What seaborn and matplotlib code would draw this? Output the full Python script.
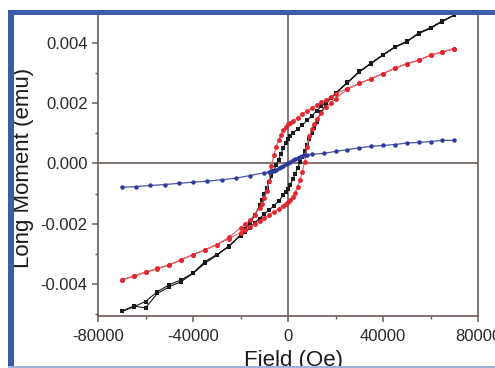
import pandas as pd
import matplotlib
matplotlib.use("Agg")
import matplotlib.pyplot as plt
from matplotlib.patches import Rectangle
from matplotlib.ticker import MultipleLocator, FuncFormatter
import seaborn as sns

# field grid of the two loop branches (Oe)
FIELD_DOWN = [70000, 65000, 60000, 55000, 50000, 45000, 40000, 35000, 30000, 25000, 20000,
              18000, 16000, 14000, 12000, 10000, 8000, 6000, 4000, 2000, 1000, 0,
              -1000, -2000, -3000, -4000, -5000, -6000, -7000, -8000, -9000, -10000, -11000, -12000,
              -14000, -16000, -18000, -20000, -25000, -30000, -35000, -40000, -45000, -50000,
              -55000, -60000, -65000, -70000]
FIELD_UP = [-70000, -65000, -60000, -55000, -50000, -45000, -40000, -35000, -30000, -25000, -20000,
            -18000, -16000, -14000, -12000, -10000, -8000, -6000, -4000, -2000, -1000, 0,
            1000, 2000, 3000, 4000, 5000, 6000, 7000, 8000, 9000, 10000, 11000, 12000,
            14000, 16000, 18000, 20000, 25000, 30000, 35000, 40000, 45000, 50000,
            55000, 60000, 65000, 70000]

# black loop (emu)
BLACK_DOWN = [0.00493, 0.00472, 0.00449, 0.00432, 0.00404, 0.00386, 0.00360, 0.00332, 0.00304, 0.00268, 0.00232,
              0.00218, 0.00205, 0.00190, 0.00174, 0.00158, 0.00143, 0.00128, 0.00114, 0.00101, 0.00093, 0.00082,
              0.00067, 0.00050, 0.00032, 0.00013, -0.00006, -0.00024, -0.00043, -0.00062, -0.00082, -0.00102,
              -0.00121, -0.00139, -0.00172, -0.00198, -0.00219, -0.00237, -0.00276, -0.00303, -0.00326,
              -0.00364, -0.00387, -0.00403, -0.00426, -0.00459, -0.00476, -0.00492]
BLACK_UP = [-0.00492, -0.00474, -0.00480, -0.00432, -0.00410, -0.00393, -0.00365, -0.00332, -0.00305, -0.00275, -0.00240,
            -0.00227, -0.00213, -0.00197, -0.00183, -0.00168, -0.00155, -0.00141, -0.00125, -0.00106, -0.00096, -0.00085,
            -0.00070, -0.00053, -0.00035, -0.00016, 0.00004, 0.00022, 0.00040, 0.00060, 0.00080, 0.00100,
            0.00119, 0.00137, 0.00172, 0.00197, 0.00217, 0.00234, 0.00270, 0.00306, 0.00334,
            0.00362, 0.00388, 0.00406, 0.00434, 0.00452, 0.00474, 0.00493]

# red loop (emu)
RED_DOWN = [0.00382, 0.00371, 0.00360, 0.00343, 0.00332, 0.00316, 0.00299, 0.00282, 0.00266, 0.00249, 0.00232,
            0.00222, 0.00212, 0.00203, 0.00193, 0.00184, 0.00174, 0.00163, 0.00152, 0.00141, 0.00136, 0.00130,
            0.00121, 0.00110, 0.00095, 0.00077, 0.00055, 0.00028, -0.00008, -0.00058, -0.00093, -0.00116,
            -0.00134, -0.00148, -0.00170, -0.00187, -0.00201, -0.00214, -0.00246, -0.00270, -0.00287,
            -0.00303, -0.00320, -0.00337, -0.00349, -0.00361, -0.00374, -0.00387]
RED_UP = [-0.00387, -0.00375, -0.00362, -0.00350, -0.00337, -0.00320, -0.00303, -0.00287, -0.00270, -0.00250, -0.00230,
          -0.00221, -0.00211, -0.00201, -0.00191, -0.00181, -0.00171, -0.00161, -0.00150, -0.00140, -0.00135, -0.00129,
          -0.00121, -0.00111, -0.00097, -0.00079, -0.00056, -0.00029, 0.00006, 0.00056, 0.00091, 0.00114,
          0.00132, 0.00147, 0.00169, 0.00187, 0.00202, 0.00215, 0.00247, 0.00266, 0.00282,
          0.00299, 0.00316, 0.00332, 0.00343, 0.00360, 0.00371, 0.00382]

# blue curve
BLUE_FIELD = [70000, 65000, 60000, 55000, 50000, 45000, 40000, 35000, 30000, 25000, 20000, 15000, 10000,
              8000, 7000, 6000, 5000, 4000, 3000, 2000, 1000, 0, -1000, -2000, -3000, -4000, -5000,
              -6000, -7000, -8000, -10000, -16000, -22000, -28000, -34000, -40000, -46000, -52000,
              -58000, -64000, -70000]
BLUE_M = [0.00077, 0.00077, 0.00073, 0.00070, 0.00068, 0.00063, 0.00060, 0.00057, 0.00052, 0.00046, 0.00040,
          0.00034, 0.00030, 0.00029, 0.00028, 0.00026, 0.00023, 0.00019, 0.00015, 0.00010, 0.00006, 0.00002,
          -0.00003, -0.00007, -0.00011, -0.00016, -0.00020, -0.00024, -0.00026, -0.00028, -0.00031,
          -0.00040, -0.00049, -0.00054, -0.00059, -0.00062, -0.00066, -0.00070, -0.00073, -0.00077, -0.00079]

X_TICKS = [-80000, -40000, 0, 40000, 80000]
Y_TICKS = [-0.004, -0.002, 0.000, 0.002, 0.004]

sns.set_style("ticks")
plt.rcParams['font.family'] = ['Liberation Sans', 'DejaVu Sans']
plt.rcParams['axes.unicode_minus'] = False

W, H = 495, 368
fig = plt.figure(figsize=(W / 100, H / 100), dpi=100)
fig.patch.set_facecolor('white')
ax = fig.add_axes([98 / W, 1 - 316 / H, 380 / W, 302 / H])

axis_col = '#6b5d58'
ax.axhline(0, color=axis_col, lw=1.2, zorder=1)
ax.axvline(0, color=axis_col, lw=1.2, zorder=1)


def loop_frame(down, up):
    return pd.DataFrame({'field': FIELD_DOWN + FIELD_UP, 'moment': down + up})


black = loop_frame(BLACK_DOWN, BLACK_UP)
red = loop_frame(RED_DOWN, RED_UP)
blue = pd.DataFrame({'field': BLUE_FIELD, 'moment': BLUE_M})

sns.lineplot(data=black, x='field', y='moment', sort=False, estimator=None, ax=ax,
             color='#1a1a1a', lw=0.8, marker='s', markersize=3.2, markeredgewidth=0, zorder=3)
sns.lineplot(data=red, x='field', y='moment', sort=False, estimator=None, ax=ax,
             color='#ea6065', lw=0.8, marker='o', markersize=3.5, markerfacecolor='#e3262f',
             markeredgewidth=0, zorder=4)
sns.lineplot(data=blue, x='field', y='moment', sort=False, estimator=None, ax=ax,
             color='#4a55a8', lw=0.9, marker='o', markersize=3.2, markerfacecolor='#2e3a9a',
             markeredgewidth=0, zorder=5)

ax.set_xlim(-80000, 80000)
ax.set_ylim(-0.00507, 0.00497)
ax.set_xticks(X_TICKS)
ax.set_yticks(Y_TICKS)
ax.xaxis.set_minor_locator(MultipleLocator(20000))
ax.yaxis.set_minor_locator(MultipleLocator(0.001))
ax.xaxis.set_major_formatter(FuncFormatter(lambda v, p: f'{v:.0f}'))
ax.yaxis.set_major_formatter(FuncFormatter(lambda v, p: f'{v:.3f}'))
ax.tick_params(which='major', direction='out', length=4.5, width=1.1, color=axis_col,
               labelsize=12, labelcolor='#2a2a2a', pad=3)
ax.tick_params(which='minor', direction='out', length=2.5, width=1.0, color=axis_col)
ax.tick_params(axis='x', which='major', pad=5)
for s in ax.spines.values():
    s.set_color(axis_col)
    s.set_linewidth(1.2)
ax.set_xlabel('')
ax.set_ylabel('')

fig.text(24 / W, 1 - 168 / H, 'Long Moment (emu)', rotation=90, ha='center', va='center',
         fontsize=16, color='#1a1a1a')
fig.text(294 / W, 1 - 350 / H, 'Field (Oe)', ha='center', va='top', fontsize=16, color='#1a1a1a')

# blue frame around the picture
frame_col = '#3c5ba8'
fig.patches.append(Rectangle((8 / W, 0), 6 / W, (H - 10) / H, transform=fig.transFigure,
                             color=frame_col, zorder=10, lw=0))
fig.patches.append(Rectangle((8 / W, 1 - 15 / H), (W - 8) / W, 5 / H, transform=fig.transFigure,
                             color=frame_col, zorder=10, lw=0))
fig.patches.append(Rectangle((8 / W, 0), (W - 8) / W, 2 / H, transform=fig.transFigure,
                             color='#9fb2dc', zorder=10, lw=0))

fig.savefig('out.png', dpi=100)
